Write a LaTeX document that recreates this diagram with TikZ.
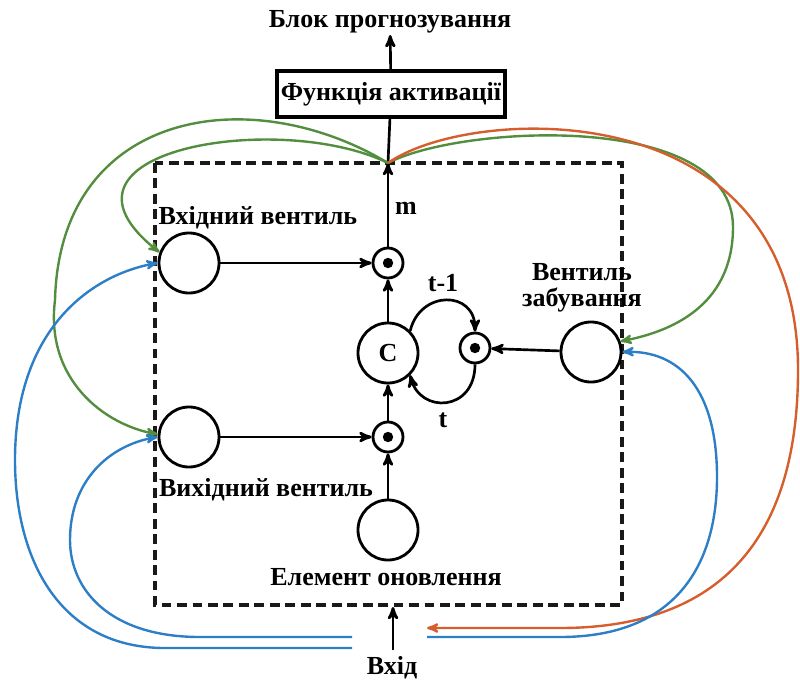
\documentclass[tikz,border=0pt]{standalone}
\usepackage{fontspec}
\setmainfont{Liberation Serif}
\usetikzlibrary{positioning,calc,arrows}
\definecolor{gcol}{RGB}{82,142,62}
\definecolor{bcol}{RGB}{44,126,198}
\definecolor{ocol}{RGB}{214,94,44}
\tikzstyle{lbl} = [font=\bfseries\fontsize{18.5}{18.5}\selectfont, inner sep=1pt]
\tikzstyle{gate} = [draw, circle, line width=2pt, minimum size=1.5cm, inner sep=0pt]
\tikzstyle{mult} = [draw, circle, line width=2pt, minimum size=0.75cm, inner sep=0pt, path picture={\fill (path picture bounding box.center) circle (0.13cm);}]
\tikzstyle{actbox} = [draw, rectangle, line width=2.6pt, minimum width=5.7cm, minimum height=1.15cm]
\tikzstyle{cellbox} = [draw=black!90, line width=2.6pt, dash pattern=on 7pt off 4pt]
\tikzstyle{arr} = [->,>=stealth',line width=1.9pt]
\tikzstyle{fb} = [->,>=stealth',line width=1.7pt]

\begin{document}
\begin{tikzpicture}[x=0.025cm, y=-0.025cm]
	\useasboundingbox (0,0) rectangle (800,684);
	\node (title) [lbl] at (390,22) {Блок прогнозування};
	\node (act) [actbox, lbl] at (391,94) {Функція активації};
	\draw [cellbox] (155,163) rectangle (622,605);
	\coordinate (top) at (388,163);
	\node (ingate) [gate] at (189,263) {};
	\node (outgate) [gate] at (189,437) {};
	\node (forget) [gate] at (591,352) {};
	\node (update) [gate] at (388,530) {};
	\node (c) [gate, lbl] at (388,353) {C};
	\node (m1) [mult] at (388,263) {};
	\node (m2) [mult] at (388,437) {};
	\node (m3) [mult] at (475,348) {};
	\node (inlbl) [lbl] at (258,218) {Вхідний вентиль};
	\node (outlbl) [lbl] at (266,490) {Вихідний вентиль};
	\node (fglbl) [lbl, align=center] at (582,288) {Вентиль\\забування};
	\node (uplbl) [lbl] at (386,577) {Елемент оновлення};
	\node (mlbl) [lbl] at (406,208) {m};
	\node (prev) [lbl] at (443,283) {t-1};
	\node (cur) [lbl] at (443,420) {t};
	\node (inp) [lbl] at (392,668) {Вхід};
	\coordinate (inpstart) at (393,650);
	\coordinate (inpend) at (393,607);
	\coordinate (orgend) at (427,628);
	\coordinate (bright) at (427,637);
	\coordinate (bl1) at (352,637);
	\coordinate (bl2) at (352,648);
	\draw [arr] (ingate) -- (m1);
	\draw [arr] (outgate) -- (m2);
	\draw [arr] (update) -- (m2);
	\draw [arr] (c) -- (m1);
	\draw [arr] (m2) -- (c);
	\draw [arr] (forget) -- (m3);
	\draw [arr] (m1) -- (top);
	\draw [line width=1.9pt] (top) -- (act);
	\draw [arr] (act) -- (title);
	\draw [arr] (inpstart) -- (inpend);
	\draw [arr] (c.45) .. controls (420,290) and (475,290) .. (m3.north);
	\draw [arr] (m3.south) .. controls (475,412) and (420,414) .. (c.-45);
	\draw [fb, gcol] (top) .. controls (280,110) and (30,150) .. (ingate.160);
	\draw [fb, gcol] (top) .. controls (250,80) and (60,110) .. (55,300) .. controls (45,380) and (105,425) .. (outgate.175);
	\draw [fb, gcol] (top) .. controls (460,125) and (733,110) .. (733,227) .. controls (733,300) and (680,330) .. (forget.20);
	\draw [fb, ocol] (top) .. controls (470,105) and (798,90) .. (798,370) .. controls (798,560) and (700,628) .. (560,628) -- (orgend);
	\draw [fb, bcol] (bright) -- (560,637) .. controls (680,637) and (717,560) .. (717,477) .. controls (717,390) and (680,350) .. (forget.east);
	\draw [fb, bcol] (bl1) -- (200,637) .. controls (110,637) and (70,590) .. (70,540) .. controls (70,480) and (110,445) .. (outgate.west);
	\draw [fb, bcol] (bl2) -- (165,648) .. controls (60,648) and (15,560) .. (15,460) .. controls (15,330) and (90,275) .. (ingate.west);
\end{tikzpicture}
\end{document}
